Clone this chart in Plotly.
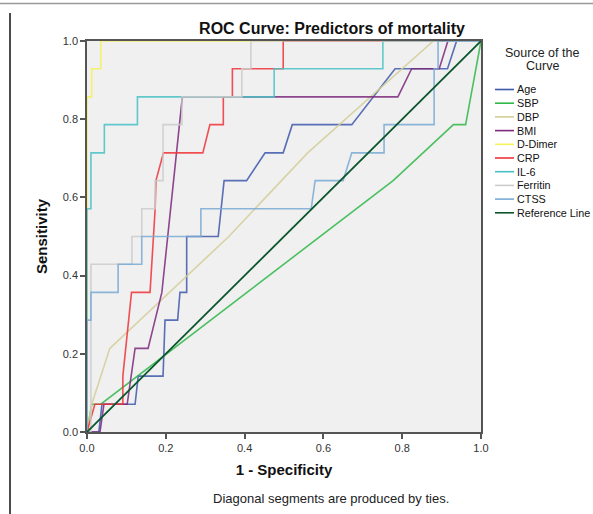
import plotly.graph_objects as go

# ---------------- data ----------------
series_names = ["Age", "SBP", "DBP", "BMI", "D-Dimer", "CRP", "IL-6", "Ferritin", "CTSS", "Reference Line"]
series_colors = ["#3e58ac", "#2eb848", "#d3ce97", "#7c287d", "#f5f25a", "#ef3338", "#48c2c5", "#cccccc", "#7aaad5", "#0a562c"]

age_x = [0, 0.030, 0.038, 0.122, 0.130, 0.193, 0.198, 0.230, 0.236, 0.253, 0.253, 0.333, 0.348, 0.405, 0.452, 0.498, 0.521, 0.672, 0.782, 0.915, 0.938, 1.0]
age_y = [0, 0, 0.071, 0.071, 0.143, 0.143, 0.286, 0.286, 0.357, 0.357, 0.5, 0.5, 0.643, 0.643, 0.714, 0.714, 0.786, 0.786, 0.929, 0.929, 1, 1]

sbp_x = [0, 0.012, 0.035, 0.777, 0.93, 0.961, 1.0]
sbp_y = [0, 0.071, 0.071, 0.643, 0.786, 0.786, 1.0]

dbp_x = [0, 0.012, 0.058, 0.36, 0.56, 0.64, 0.879, 1.0]
dbp_y = [0, 0.071, 0.214, 0.5, 0.714, 0.786, 1.0, 1.0]

bmi_x = [0, 0.033, 0.043, 0.102, 0.112, 0.122, 0.155, 0.190, 0.242, 0.789, 0.824, 0.894, 0.916, 1]
bmi_y = [0, 0, 0.071, 0.071, 0.143, 0.214, 0.214, 0.357, 0.857, 0.857, 0.929, 0.929, 1, 1]

ddimer_x = [0, 0, 0.012, 0.012, 0.035, 0.035, 1]
ddimer_y = [0, 0.857, 0.857, 0.929, 0.929, 1, 1]

crp_x = [0, 0.020, 0.091, 0.091, 0.113, 0.160, 0.173, 0.175, 0.194, 0.294, 0.312, 0.346, 0.346, 0.369, 0.369, 0.498, 0.498, 1]
crp_y = [0, 0.071, 0.071, 0.143, 0.357, 0.357, 0.571, 0.643, 0.714, 0.714, 0.786, 0.786, 0.857, 0.857, 0.929, 0.929, 1, 1]

il6_x = [0, 0, 0.010, 0.010, 0.044, 0.044, 0.128, 0.128, 0.475, 0.475, 0.751, 0.751, 1.0]
il6_y = [0, 0.571, 0.571, 0.714, 0.714, 0.786, 0.786, 0.857, 0.857, 0.929, 0.929, 1, 1]

ferritin_x = [0, 0.010, 0.010, 0.114, 0.114, 0.139, 0.139, 0.173, 0.173, 0.193, 0.193, 0.241, 0.241, 0.393, 0.393, 0.416, 0.416, 1]
ferritin_y = [0, 0, 0.429, 0.429, 0.5, 0.5, 0.571, 0.571, 0.643, 0.643, 0.786, 0.786, 0.857, 0.857, 0.929, 0.929, 1, 1]

ctss_x = [0, 0, 0.010, 0.010, 0.079, 0.079, 0.139, 0.139, 0.289, 0.289, 0.569, 0.579, 0.650, 0.672, 0.754, 0.754, 0.881, 0.881, 0.891, 0.891, 1]
ctss_y = [0, 0.286, 0.286, 0.357, 0.357, 0.429, 0.429, 0.5, 0.5, 0.571, 0.571, 0.643, 0.643, 0.714, 0.714, 0.786, 0.786, 0.929, 0.929, 1, 1]

ref_x = [0, 1]
ref_y = [0, 1]

tick_vals = [0.0, 0.2, 0.4, 0.6, 0.8, 1.0]
tick_text = ["0.0", "0.2", "0.4", "0.6", "0.8", "1.0"]

all_x = [age_x, sbp_x, dbp_x, bmi_x, ddimer_x, crp_x, il6_x, ferritin_x, ctss_x, ref_x]
all_y = [age_y, sbp_y, dbp_y, bmi_y, ddimer_y, crp_y, il6_y, ferritin_y, ctss_y, ref_y]

FONT = "Arial, 'Liberation Sans', sans-serif"

fig = go.Figure()
for name, color, xs, ys in zip(series_names, series_colors, all_x, all_y):
    fig.add_trace(go.Scatter(
        x=xs, y=ys, mode="lines", name=name,
        line=dict(color=color, width=1.6 if name != "Reference Line" else 1.8),
        opacity=0.85 if name != "Reference Line" else 1.0,
        showlegend=False, hoverinfo="skip",
    ))

# ---------------- geometry (screen pixels; body margin removed in post_script) ----------------
PL, PR, PT, PB = 87, 481, 41, 432          # plot area on screen
W, H = 593, 514
ML, MT = PL, PT
MR, MB = W - PR, H - PB


def px_x(px):
    return (px - PL) / (PR - PL)


def px_y(py):
    return (PB - py) / (PB - PT)


shapes = []
annotations = []
for txt, yy in [("Source of the", 53), ("Curve", 66)]:
    annotations.append(dict(
        text=txt, x=px_x(542), y=px_y(yy), xref="paper", yref="paper",
        xanchor="center", yanchor="middle", showarrow=False,
        font=dict(family=FONT, size=12.5, color="#222")))
for i, (name, color) in enumerate(zip(series_names, series_colors)):
    yy = px_y(89.5 + i * 13.7)
    shapes.append(dict(type="line", xref="paper", yref="paper",
                       x0=px_x(495), x1=px_x(514), y0=yy, y1=yy,
                       line=dict(color=color, width=1.6)))
    annotations.append(dict(text=name, x=px_x(515), y=yy, xref="paper", yref="paper",
                            xanchor="left", yanchor="middle", showarrow=False,
                            font=dict(family=FONT, size=10.8, color="#111")))

# frame lines of the report page
shapes.append(dict(type="line", xref="paper", yref="paper",
                   x0=px_x(10), x1=px_x(10), y0=px_y(13), y1=px_y(514),
                   line=dict(color="#111", width=1.5)))
shapes.append(dict(type="line", xref="paper", yref="paper",
                   x0=px_x(0), x1=px_x(593), y0=px_y(3.5), y1=px_y(3.5),
                   line=dict(color="#999", width=1.5)))

annotations.append(dict(
    text="Diagonal segments are produced by ties.", x=px_x(331), y=px_y(498),
    xref="paper", yref="paper", xanchor="center", yanchor="middle", showarrow=False,
    font=dict(family=FONT, size=13, color="#222")))

fig.update_layout(
    width=W, height=H, autosize=False,
    margin=dict(l=ML, r=MR, t=MT, b=MB, pad=0),
    paper_bgcolor="white", plot_bgcolor="#f0f0f0",
    title=dict(text="<b>ROC Curve: Predictors of mortality</b>", x=332 / W, xanchor="center",
               y=1 - 28 / H, yanchor="middle", font=dict(family=FONT, size=16, color="#111")),
    font=dict(family=FONT, color="#333"),
    shapes=shapes, annotations=annotations,
    xaxis=dict(range=[0, 1], tickvals=tick_vals, ticktext=tick_text, showgrid=False, zeroline=False,
               showline=True, linecolor="#555", linewidth=1.5, mirror=True,
               ticks="outside", ticklen=5, tickcolor="#555", tickwidth=1.5,
               tickfont=dict(family=FONT, size=11, color="#333"),
               title=dict(text="<b>1 - Specificity</b>", standoff=12,
                          font=dict(family=FONT, size=15, color="#111"))),
    yaxis=dict(range=[0, 1], tickvals=tick_vals, ticktext=tick_text, showgrid=False, zeroline=False,
               showline=True, linecolor="#555", linewidth=1.5, mirror=True,
               ticks="outside", ticklen=5, tickcolor="#555", tickwidth=1.5,
               tickfont=dict(family=FONT, size=11, color="#333"),
               title=dict(text="<b>Sensitivity</b>", standoff=12,
                          font=dict(family=FONT, size=15, color="#111"))),
)

fig.write_html(
    "out.html",
    config={"displayModeBar": False},
    post_script="document.body.style.margin='0';document.body.style.overflow='hidden';"
                "document.documentElement.style.overflow='hidden';",
)
